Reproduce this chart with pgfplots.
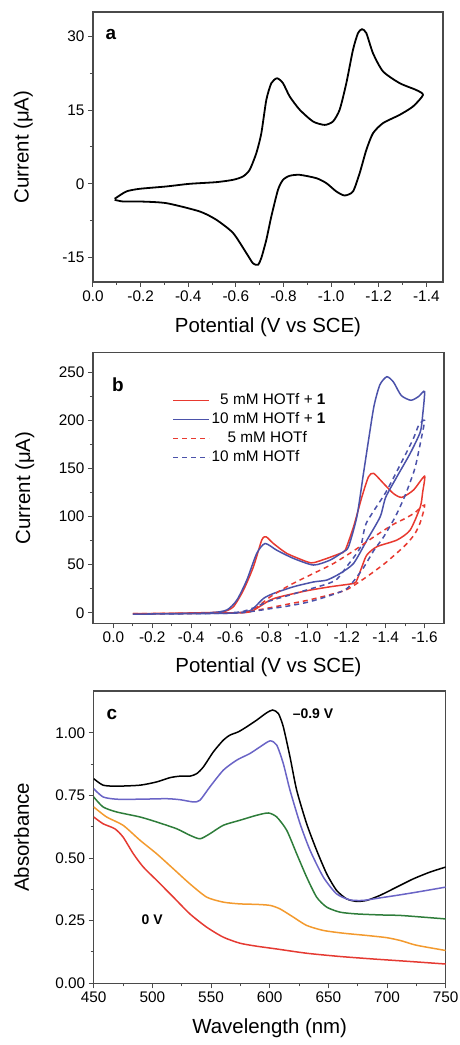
\documentclass[border=0pt]{standalone}
\usepackage{pgfplots}
\pgfplotsset{compat=1.18}
\usepackage{fontspec}
\setmainfont{Liberation Sans}

\definecolor{framegray}{HTML}{4A4A4A}
\definecolor{cvred}{HTML}{E8392F}
\definecolor{cvblue}{HTML}{4B52AA}
\definecolor{spblue}{HTML}{6A64C6}
\definecolor{spgreen}{HTML}{2E7D3A}
\definecolor{sporange}{HTML}{F39A2E}
\definecolor{spred}{HTML}{E53A32}

\pgfplotsset{
  panel/.style={
    scale only axis, anchor=south west,
    axis line style={draw=framegray, line width=1.2bp},
    every tick/.style={draw=framegray, line width=1bp},
    major tick length=5bp, minor tick length=3bp,
    tick align=outside, xtick pos=left, ytick pos=left,
    minor tick num=1,
    tick label style={font=\fontsize{15.4}{18}\selectfont},
    label style={font=\fontsize{20.5}{24}\selectfont},
    /pgf/number format/assume math mode=true,
    every axis plot/.append style={line width=1.5bp, no markers},
  },
  dashcv/.style={dash pattern=on 5bp off 4bp},
}

\begin{document}
\begin{tikzpicture}
\useasboundingbox (0,0) rectangle (460bp,1045bp);

% ---- panel a ----
\begin{axis}[panel,
  at={(93bp,763bp)}, width=350bp, height=270bp,
  x dir=reverse, xmin=-1.47, xmax=0, ymin=-20, ymax=35,
  xtick={0,-0.2,-0.4,-0.6,-0.8,-1.0,-1.2,-1.4},
  ytick={-15,0,15,30},
  xticklabel style={/pgf/number format/.cd, fixed, fixed zerofill, precision=1},
  xlabel={Potential (V vs SCE)}, ylabel={Current (μA)},
  xlabel style={at={(axis description cs:0.5,-0.167)}, anchor=center},
  ylabel style={at={(axis description cs:-0.199,0.5)}, anchor=center},
]
\addplot[black, line width=1.8bp, smooth, tension=0.4] coordinates {
(-0.091,-3.05) (-0.140,-1.56) (-0.196,-1.02) (-0.308,-0.54) (-0.406,0) (-0.518,0.34)
(-0.588,0.81) (-0.630,1.49) (-0.658,2.85) (-0.686,6.25) (-0.707,10.3) (-0.728,17.1)
(-0.749,20.5) (-0.773,21.5) (-0.798,20.5) (-0.826,17.8) (-0.868,15.1) (-0.924,12.7)
(-0.973,12.0) (-1.008,12.7) (-1.036,15.1) (-1.064,20.5) (-1.092,27.3) (-1.113,30.7)
(-1.130,31.5) (-1.148,30.7) (-1.176,26.6) (-1.218,22.9) (-1.288,20.5) (-1.358,19.1)
(-1.386,18.1)
(-1.344,15.75) (-1.288,14.05) (-1.218,12.36) (-1.176,10.3) (-1.148,6.9) (-1.120,2.17)
(-1.092,-1.56) (-1.057,-2.38) (-1.022,-1.56) (-0.980,0.14) (-0.938,1.15) (-0.868,1.83)
(-0.826,1.63) (-0.798,0.81) (-0.777,-1.22) (-0.749,-6.65) (-0.728,-11.4) (-0.707,-15.1)
(-0.693,-16.5) (-0.672,-16.2) (-0.644,-14.1) (-0.588,-10.0) (-0.518,-7.33) (-0.448,-5.63)
(-0.308,-3.94) (-0.196,-3.6) (-0.126,-3.6) (-0.091,-3.26)
};
\node[font=\fontsize{19}{22}\selectfont\bfseries] at (rel axis cs:0.051,0.915) {a};
\end{axis}

% ---- panel b ----
\begin{axis}[panel,
  at={(93bp,421.7bp)}, width=351bp, height=270.6bp,
  x dir=reverse, xmin=-1.7, xmax=0.105, ymin=-11, ymax=270.5,
  xtick={0,-0.2,-0.4,-0.6,-0.8,-1.0,-1.2,-1.4,-1.6},
  ytick={0,50,100,150,200,250},
  xticklabel style={/pgf/number format/.cd, fixed, fixed zerofill, precision=1},
  xlabel={Potential (V vs SCE)}, ylabel={Current (μA)},
  xlabel style={at={(axis description cs:0.5,-0.163)}, anchor=center},
  ylabel style={at={(axis description cs:-0.194,0.5)}, anchor=center},
  legend style={at={(rel axis cs:0.218,0.862)}, anchor=north west, draw=none, fill=none,
    font=\fontsize{15.4}{18}\selectfont, row sep=2bp,
    nodes={inner sep=1.5bp, text height=11bp, text depth=3bp}},
  legend cell align=left,
  legend image code/.code={\draw[#1] (0bp,0bp) -- (36bp,0bp);},
]
\addplot[cvred, smooth, tension=0.4] coordinates {
(-0.10,-1) (-0.30,-0.6) (-0.50,0.2) (-0.566,1) (-0.617,6.2) (-0.669,23.6) (-0.72,47.8)
(-0.763,75.6) (-0.785,79) (-0.823,72) (-0.892,61.7) (-0.995,53) (-1.029,52) (-1.098,56.5)
(-1.166,61.7) (-1.192,65) (-1.235,89.5) (-1.278,120.7) (-1.312,141.5) (-1.338,145)
(-1.389,134.5) (-1.44,124) (-1.483,120) (-1.543,127.6) (-1.60,142)
(-1.59,125) (-1.578,110) (-1.526,86) (-1.458,75.6) (-1.355,68.7) (-1.303,60) (-1.278,47.8)
(-1.252,34) (-1.235,30.5) (-1.115,27) (-0.995,22.9) (-0.857,16.6) (-0.806,13.2)
(-0.737,4.5) (-0.703,1.0) (-0.65,0) (-0.40,-0.6) (-0.10,-1)
};
\addlegendentry{\hphantom{1}5 mM HOTf + \textbf{1}}
\addplot[cvblue, smooth, tension=0.4] coordinates {
(-0.10,-1.5) (-0.30,-1) (-0.50,0) (-0.583,2.8) (-0.635,13.2) (-0.686,34) (-0.737,61.7)
(-0.780,72) (-0.84,65) (-0.926,56.5) (-1.029,49.6) (-1.115,54.8) (-1.183,63.5)
(-1.209,68.6) (-1.252,99.9) (-1.286,145) (-1.312,179.6) (-1.34,215) (-1.37,237)
(-1.406,245.5) (-1.44,240) (-1.48,226) (-1.53,221) (-1.57,225) (-1.60,230)
(-1.59,205) (-1.578,188) (-1.526,165.7) (-1.458,141.5) (-1.40,120) (-1.372,99.9)
(-1.304,75.6) (-1.235,51.3) (-1.166,40.9) (-1.098,34) (-1.029,32) (-0.926,27)
(-0.823,20) (-0.772,14.9) (-0.720,4.5) (-0.686,1) (-0.60,-0.5) (-0.40,-1) (-0.10,-1.5)
};
\addlegendentry{10 mM HOTf + \textbf{1}}
\addplot[cvred, dashcv, smooth, tension=0.4] coordinates {
(-0.10,-1) (-0.40,-0.6) (-0.65,0) (-0.72,2) (-0.80,5) (-0.90,9) (-1.00,13) (-1.10,18)
(-1.20,24) (-1.30,37) (-1.40,52) (-1.50,70) (-1.55,82) (-1.58,95) (-1.60,112)
(-1.55,104) (-1.50,98) (-1.44,92) (-1.34,79) (-1.24,65) (-1.13,51) (-1.03,41)
(-0.91,29) (-0.81,17) (-0.74,6) (-0.70,1) (-0.65,0)
};
\addlegendentry{\hphantom{11}5 mM HOTf}
\addplot[cvblue, dashcv, smooth, tension=0.4] coordinates {
(-0.10,-1.5) (-0.60,-0.5) (-0.70,1) (-0.80,4) (-0.90,7) (-1.00,11) (-1.10,17)
(-1.20,25) (-1.28,45) (-1.34,65) (-1.39,79) (-1.45,100) (-1.50,122) (-1.55,150)
(-1.58,178) (-1.60,200)
(-1.57,195) (-1.54,180) (-1.47,152) (-1.40,125) (-1.30,93) (-1.27,68) (-1.20,48)
(-1.15,35) (-1.10,30) (-1.00,24) (-0.90,18) (-0.80,12) (-0.72,5) (-0.66,1) (-0.60,0)
};
\addlegendentry{10 mM HOTf}
\node[font=\fontsize{19}{22}\selectfont\bfseries] at (rel axis cs:0.071,0.881) {b};
\end{axis}

% ---- panel c ----
\begin{axis}[panel,
  at={(93.7bp,61.7bp)}, width=352bp, height=292.3bp,
  xmin=450, xmax=750, ymin=0, ymax=1.167,
  xtick={450,500,550,600,650,700,750},
  ytick={0,0.25,0.5,0.75,1},
  yticklabel style={/pgf/number format/.cd, fixed, fixed zerofill, precision=2},
  xlabel={Wavelength (nm)}, ylabel={Absorbance},
  xlabel style={at={(axis description cs:0.5,-0.154)}, anchor=center},
  ylabel style={at={(axis description cs:-0.205,0.5)}, anchor=center},
]
\addplot[black, smooth, tension=0.4] coordinates {
(450,0.817) (458,0.791) (469.6,0.787) (489.5,0.791) (503.7,0.804) (515,0.821) (523.6,0.827)
(532,0.827) (537.8,0.837) (543.5,0.864) (552,0.924) (560.5,0.971) (566.2,0.991) (573.3,1.004)
(580.4,1.024) (589,1.051) (597.4,1.080) (602.6,1.091) (607.4,1.077) (611.6,1.024) (617.3,0.904)
(623,0.771) (631.5,0.637) (640,0.531) (648.6,0.437) (657,0.371) (665.6,0.337) (674,0.327)
(682.7,0.331) (694,0.351) (708.2,0.384) (722.4,0.417) (736.6,0.444) (750,0.464)
};
\addplot[spblue, smooth, tension=0.4] coordinates {
(450,0.777) (458,0.744) (469.6,0.735) (489.5,0.735) (512,0.737) (523.6,0.733) (535,0.724)
(540.6,0.731) (549,0.784) (560.5,0.851) (571.9,0.891) (583,0.917) (591.8,0.944) (600.3,0.968)
(606,0.951) (611.6,0.877) (617.3,0.771) (625.9,0.637) (634.4,0.531) (645.7,0.424) (657,0.357)
(668.5,0.333) (679.8,0.331) (694,0.341) (708.2,0.351) (725.3,0.364) (750,0.384)
};
\addplot[spgreen, smooth, tension=0.4] coordinates {
(450,0.744) (458,0.704) (469.6,0.684) (489.5,0.664) (503.7,0.644) (520.7,0.617) (532,0.591)
(540.6,0.577) (549,0.597) (560.5,0.631) (574.7,0.651) (589,0.671) (598.9,0.680) (606,0.664)
(614.5,0.611) (623,0.517) (631.5,0.424) (640,0.344) (648.6,0.304) (660,0.284) (674,0.277)
(694,0.273) (711,0.271) (731,0.264) (750,0.257)
};
\addplot[sporange, smooth, tension=0.4] coordinates {
(450,0.704) (461,0.664) (475,0.631) (489.5,0.571) (503.7,0.517) (517.9,0.457) (532,0.397)
(546.3,0.344) (560.5,0.324) (574.7,0.317) (589,0.315) (600.3,0.311) (608.8,0.297)
(620.2,0.264) (631.5,0.231) (645.7,0.211) (662.8,0.200) (682.7,0.191) (700,0.182)
(712,0.170) (725,0.152) (750,0.131)
};
\addplot[spred, smooth, tension=0.4] coordinates {
(450,0.664) (458,0.637) (468,0.617) (475,0.584) (483.8,0.517) (492.3,0.464) (503.7,0.411)
(517.9,0.344) (532,0.277) (546.3,0.224) (560.5,0.184) (574.7,0.160) (589,0.148) (606,0.137)
(631.5,0.120) (660,0.107) (688.4,0.097) (716.8,0.088) (750,0.077)
};
\node[font=\fontsize{19}{22}\selectfont\bfseries] at (rel axis cs:0.052,0.918) {c};
\node[font=\fontsize{14}{17}\selectfont\bfseries] at (rel axis cs:0.623,0.921) {--0.9 V};
\node[font=\fontsize{14}{17}\selectfont\bfseries] at (rel axis cs:0.166,0.217) {0 V};
\end{axis}
\end{tikzpicture}
\end{document}
